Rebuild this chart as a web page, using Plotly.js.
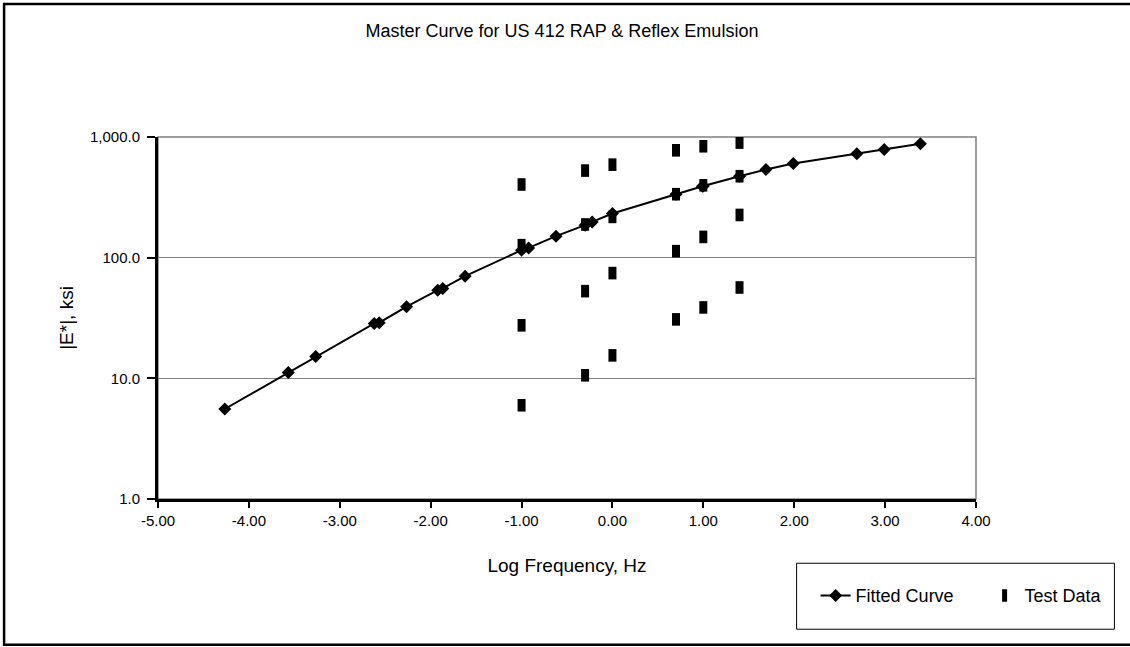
<!DOCTYPE html>
<html>
<head>
<meta charset="utf-8">
<script src="https://cdn.plot.ly/plotly-3.0.1.min.js"></script>
<style>
  html, body { margin: 0; padding: 0; background: #fff; }
  #chart { width: 1130px; height: 647px; }
</style>
</head>
<body>
<div id="chart"></div>
<script>
// Fitted master curve (shifted log frequency vs |E*|, ksi)
var fittedX = [-4.265, -3.566, -3.265, -2.621, -2.566, -2.265, -1.922, -1.867, -1.621, -1.000, -0.922, -0.621, -0.301, -0.223, 0.000, 0.699, 0.990, 1.000, 1.398, 1.689, 1.990, 2.689, 2.990, 3.388];
var fittedY = [5.57, 11.2, 15.2, 28.5, 28.9, 39.2, 53.8, 55.6, 70.3, 115.4, 120.5, 150.7, 185.8, 197.8, 232.3, 335.6, 390, 392.6, 473, 537, 602, 728, 787, 881];

// Test data (log frequency vs |E*|, ksi)
var testX = [-1, -1, -1, -1,
             -0.301, -0.301, -0.301, -0.301,
             0, 0, 0, 0,
             0.699, 0.699, 0.699, 0.699,
             1, 1, 1, 1,
             1.398, 1.398, 1.398, 1.398];
var testY = [404, 126.9, 27.5, 5.98,
             527, 188.3, 52.8, 10.6,
             590, 217.7, 74.5, 15.5,
             776, 335.6, 113.2, 30.8,
             838, 398, 148.6, 38.7,
             899, 473, 226, 56.6];

var yTickVals = [1, 10, 100, 1000];
var yTickText = ["1.0", "10.0", "100.0", "1,000.0"];
var xTickVals = [-5, -4, -3, -2, -1, 0, 1, 2, 3, 4];
var xTickText = ["-5.00", "-4.00", "-3.00", "-2.00", "-1.00", "0.00", "1.00", "2.00", "3.00", "4.00"];

var FONT = "Liberation Sans, Arial, sans-serif";

var traces = [
  {
    x: fittedX, y: fittedY, name: "Fitted Curve",
    type: "scatter", mode: "lines+markers",
    line: {color: "#000", width: 2},
    marker: {symbol: "diamond", size: 10, color: "#000"}
  },
  {
    x: testX, y: testY, name: "Test Data",
    type: "scatter", mode: "markers",
    marker: {symbol: "line-ns", size: 9, color: "#000", line: {color: "#000", width: 8}}
  }
];

// plot area in px: l=158, t=137, r=976.5, b=499.2
var L = 158, T = 137, W = 818.5, H = 362.2, B = 499.2;
function px2x(p) { return (p - L) / W; }
function px2y(p) { return (B - p) / H; }

var layout = {
  width: 1130, height: 647,
  margin: {l: L, t: T, r: 1130 - L - W, b: 647 - B, autoexpand: false},
  paper_bgcolor: "#fff", plot_bgcolor: "#fff",
  font: {family: FONT, color: "#000", size: 15},
  title: {
    text: "Master Curve for US 412 RAP & Reflex Emulsion",
    font: {family: FONT, size: 18, color: "#000"},
    xref: "container", yref: "container",
    x: 562 / 1130, xanchor: "center",
    y: 1 - 31 / 647, yanchor: "middle"
  },
  xaxis: {
    range: [-5, 4], tickmode: "array", tickvals: xTickVals, ticktext: xTickText,
    showgrid: false, zeroline: false,
    showline: true, linecolor: "#000", linewidth: 3,
    ticks: "outside", ticklen: 6, tickwidth: 2, tickcolor: "#000",
    tickfont: {family: FONT, size: 15, color: "#000"},
    title: {text: "Log Frequency, Hz", font: {family: FONT, size: 19, color: "#000"}, standoff: 31}
  },
  yaxis: {
    type: "log", range: [0, 3], tickmode: "array", tickvals: yTickVals, ticktext: yTickText,
    showgrid: true, gridcolor: "#808080", gridwidth: 1, zeroline: false,
    showline: true, linecolor: "#000", linewidth: 3,
    ticks: "outside", ticklen: 8, tickwidth: 2, tickcolor: "#000",
    ticklabelstandoff: 4,
    tickfont: {family: FONT, size: 15, color: "#000"},
    title: {text: "|E*|, ksi", font: {family: FONT, size: 19, color: "#000"}, standoff: 12}
  },
  showlegend: true,
  legend: {
    orientation: "h",
    x: px2x(816), xanchor: "left",
    y: px2y(596), yanchor: "middle",
    bgcolor: "rgba(0,0,0,0)", borderwidth: 0,
    font: {family: FONT, size: 18, color: "#000"},
    entrywidth: 124
  },
  shapes: [
    // plot area border (gray, top & right)
    {type: "rect", xref: "paper", yref: "paper", x0: 0, x1: 1, y0: 0, y1: 1,
     line: {color: "#808080", width: 1.5}, layer: "below"},
    // legend box
    {type: "rect", xref: "paper", yref: "paper",
     x0: px2x(797), x1: px2x(1115), y0: px2y(629.5), y1: px2y(563.5),
     line: {color: "#000", width: 1}},
    // outer chart frame
    {type: "rect", xref: "paper", yref: "paper",
     x0: px2x(4), x1: px2x(1140), y0: px2y(645), y1: px2y(4),
     line: {color: "#000", width: 2.5}}
  ]
};

Plotly.newPlot("chart", traces, layout, {displayModeBar: false, staticPlot: true});
</script>
</body>
</html>
